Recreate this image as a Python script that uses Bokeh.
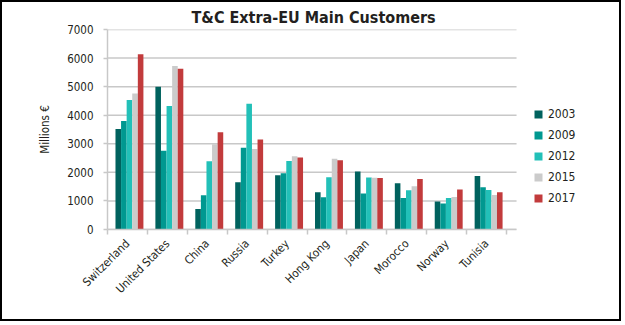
from bokeh.plotting import figure
from bokeh.models import (ColumnDataSource, Range1d, FixedTicker, Legend, LegendItem)
from bokeh.embed import file_html
from bokeh.resources import INLINE
import math

countries = ["Switzerland", "United States", "China", "Russia", "Turkey",
             "Hong Kong", "Japan", "Morocco", "Norway", "Tunisia"]
years = ["2003", "2009", "2012", "2015", "2017"]
v2003 = [3520, 5000, 720, 1650, 1900, 1300, 2030, 1620, 980, 1870]
v2009 = [3800, 2760, 1200, 2860, 1970, 1130, 1260, 1100, 910, 1480]
v2012 = [4530, 4320, 2390, 4400, 2400, 1830, 1820, 1370, 1100, 1380]
v2015 = [4760, 5720, 2980, 2820, 2560, 2480, 1810, 1510, 1140, 1210]
v2017 = [6130, 5630, 3400, 3150, 2520, 2420, 1800, 1770, 1400, 1300]
series = [v2003, v2009, v2012, v2015, v2017]
colors = ["#00625E", "#009890", "#22C0B8", "#CBCBCB", "#C23B3C"]
y_ticks = [0, 1000, 2000, 3000, 4000, 5000, 6000, 7000]

FONT = "'DejaVu Sans Condensed', 'Liberation Sans Narrow', sans-serif"
TXT = "#231F20"
GRID = "#C8C8C8"

n = len(countries)
x_end = n + 0.25          # plotted category area (gridline extent)
W, H = 621, 321
p = figure(width=W, height=H, output_backend="svg", toolbar_location=None,
           x_range=Range1d(0, 12.88), y_range=Range1d(0, 7000),
           min_border_left=105, min_border_right=2, min_border_top=27,
           min_border_bottom=94,
           styles={"border": "2px solid #000"})
p.outline_line_color = None
p.background_fill_color = "white"
p.border_fill_color = "white"

p.title.text = "T&C Extra-EU Main Customers"
p.title.align = "left"
p.title.text_font = FONT
p.title.text_font_style = "bold"
p.title.text_font_size = "16px"
p.title.text_color = TXT
p.title.standoff = 6
p.title.offset = 84

# gridlines limited to the category area
p.xgrid.grid_line_color = None
p.ygrid.grid_line_color = None
p.segment(x0=[0] * len(y_ticks), x1=[x_end] * len(y_ticks), y0=y_ticks, y1=y_ticks,
          line_color=GRID, line_width=1.5)

bw = 0.14
offsets = [-0.28, -0.14, 0.0, 0.14, 0.28]
renderers = []
for yr, vals, col, off in zip(years, series, colors, offsets):
    src = ColumnDataSource(dict(x=[i + 0.5 + 0.05 + off for i in range(n)], top=vals))
    r = p.vbar(x="x", top="top", width=bw, bottom=0, source=src,
               fill_color=col, line_color=None)
    renderers.append(r)

# x axis
xa = p.xaxis[0]
xa.bounds = (0, x_end)
xa.ticker = FixedTicker(ticks=[i + 0.5 for i in range(n)],
                        minor_ticks=list(range(n + 1)))
xa.major_label_overrides = {i + 0.5: c for i, c in enumerate(countries)}
xa.major_label_orientation = math.pi / 4
xa.major_tick_line_color = None
xa.minor_tick_line_color = GRID
xa.minor_tick_line_width = 1.5
xa.minor_tick_out = 5
xa.minor_tick_in = 0
xa.axis_line_color = GRID
xa.axis_line_width = 1.5
xa.major_label_text_font = FONT
xa.major_label_text_font_size = "11.5px"
xa.major_label_text_color = TXT
xa.major_label_standoff = 6

ya = p.yaxis[0]
ya.ticker = FixedTicker(ticks=y_ticks)
ya.axis_line_color = GRID
ya.axis_line_width = 1.5
ya.major_tick_line_color = GRID
ya.major_tick_line_width = 1.5
ya.major_tick_out = 4
ya.major_tick_in = 0
ya.minor_tick_line_color = None
ya.major_label_text_font = FONT
ya.major_label_text_font_size = "11.5px"
ya.major_label_text_color = TXT
ya.major_label_standoff = 10
ya.axis_label = "Millions €"
ya.axis_label_text_font = FONT
ya.axis_label_text_font_size = "11.5px"
ya.axis_label_text_font_style = "normal"
ya.axis_label_text_color = TXT
ya.axis_label_standoff = 12

legend = Legend(items=[LegendItem(label=y, renderers=[r]) for y, r in zip(years, renderers)],
                location=(426, 21), orientation="vertical")
legend.glyph_width = 10
legend.glyph_height = 10
legend.label_height = 20
legend.spacing = 1
legend.padding = 0
legend.margin = 0
legend.border_line_color = None
legend.background_fill_alpha = 0
legend.label_text_font = FONT
legend.label_text_font_size = "12px"
legend.label_text_color = TXT
legend.label_standoff = 5
p.add_layout(legend)

open("out.html", "w").write(file_html(p, INLINE))
